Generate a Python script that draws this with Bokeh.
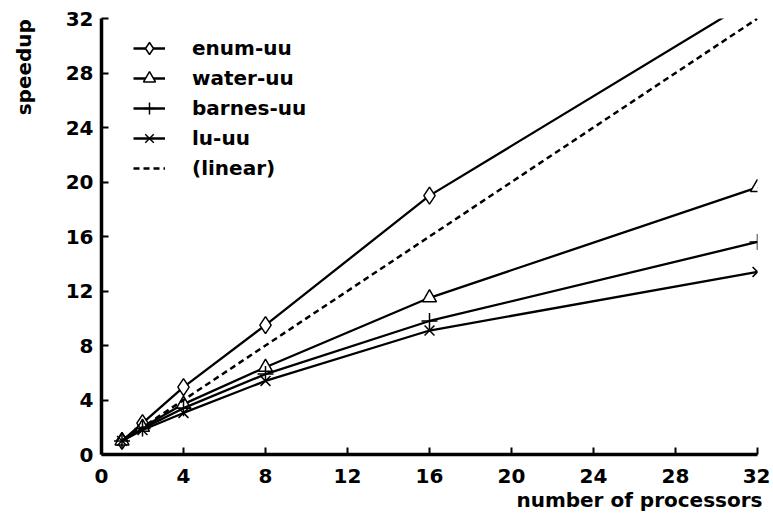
import math
from bokeh.plotting import figure
from bokeh.models import Range1d, FixedTicker, Legend, LegendItem, Title
from bokeh.embed import file_html
from bokeh.resources import INLINE

procs = [1, 2, 4, 8, 16, 32]
enum_uu = [1.0, 2.3, 4.95, 9.5, 19.0, 33.6]
water_uu = [1.0, 2.0, 3.7, 6.4, 11.5, 19.6]
barnes_uu = [1.0, 1.9, 3.4, 5.9, 9.8, 15.6]
lu_uu = [1.0, 1.8, 3.05, 5.4, 9.1, 13.4]
linear_x = [1, 32]
linear_y = [1, 32]
ticks = [0, 4, 8, 12, 16, 20, 24, 28, 32]
x_title = "number of processors"
y_title = "speedup"

FONT = "DejaVu Sans"

p = figure(width=770, height=516, output_backend="svg", toolbar_location=None,
           x_range=Range1d(0, 32), y_range=Range1d(0, 32),
           min_border_left=101, min_border_right=13, min_border_top=18, min_border_bottom=62)
p.outline_line_color = None
p.xgrid.visible = False
p.ygrid.visible = False
p.background_fill_color = "white"
p.border_fill_color = "white"

for ax in (p.xaxis[0], p.yaxis[0]):
    ax.ticker = FixedTicker(ticks=ticks)
    ax.axis_line_width = 3.5
    ax.axis_line_color = "black"
    ax.major_tick_in = 7
    ax.major_tick_out = 0
    ax.major_tick_line_width = 2
    ax.minor_tick_line_color = None
    ax.major_label_text_font = FONT
    ax.major_label_text_font_style = "bold"
    ax.major_label_text_font_size = "20px"
    ax.major_label_text_color = "black"
    ax.axis_label_text_font = FONT
    ax.axis_label_text_font_style = "bold"
    ax.axis_label_text_font_size = "20px"
    ax.axis_label_text_color = "black"
p.xaxis[0].major_label_standoff = 14
p.yaxis[0].major_label_standoff = 8

lw = 2.3
r_enum_l = p.line(procs, enum_uu, line_width=lw, color="black")
r_enum_m = p.scatter(procs, enum_uu, marker="diamond", size=17,
                     fill_color="white", line_color="black", line_width=1.5)
r_water_l = p.line(procs, water_uu, line_width=lw, color="black")
r_water_m = p.scatter(procs, water_uu, marker="triangle", size=14, fill_color="white",
                      line_color="black", line_width=1.5)
r_barnes_l = p.line(procs, barnes_uu, line_width=lw, color="black")
r_barnes_m = p.scatter(procs, barnes_uu, marker="cross", size=16, line_color="black", line_width=1.5)
r_lu_l = p.line(procs, lu_uu, line_width=lw, color="black")
r_lu_m = p.scatter(procs, lu_uu, marker="x", size=14, line_color="black", line_width=1.5)
r_lin = p.line(linear_x, linear_y, line_width=2.5, color="black", line_dash="6 4")

legend = Legend(items=[
    LegendItem(label="enum-uu", renderers=[r_enum_l, r_enum_m]),
    LegendItem(label="water-uu", renderers=[r_water_l, r_water_m]),
    LegendItem(label="barnes-uu", renderers=[r_barnes_l, r_barnes_m]),
    LegendItem(label="lu-uu", renderers=[r_lu_l, r_lu_m]),
    LegendItem(label="(linear)", renderers=[r_lin]),
], location=(32, 271))
legend.padding = 0
legend.margin = 0
legend.spacing = 0
legend.border_line_color = None
legend.background_fill_alpha = 0
legend.glyph_width = 32
legend.glyph_height = 30
legend.label_height = 30
legend.label_standoff = 27
legend.label_text_font = FONT
legend.label_text_font_style = "bold"
legend.label_text_font_size = "20px"
legend.label_text_color = "black"
p.add_layout(legend, "center")

# x title: right-aligned under the axis
xtitle = Title(text=x_title, align="right", offset=-5,
               text_font=FONT, text_font_style="bold", text_font_size="20px",
               text_color="black", standoff=0)
p.add_layout(xtitle, "below")

# y title: anchored at the top end of the axis (trailing no-break spaces
# shift the centred label so that the word ends at the top of the axis)
p.yaxis[0].axis_label = y_title + "\u00a0" * 14
p.yaxis[0].axis_label_align = "end"
p.yaxis[0].axis_label_standoff = 27

open("out.html", "w").write(file_html(p, INLINE))
